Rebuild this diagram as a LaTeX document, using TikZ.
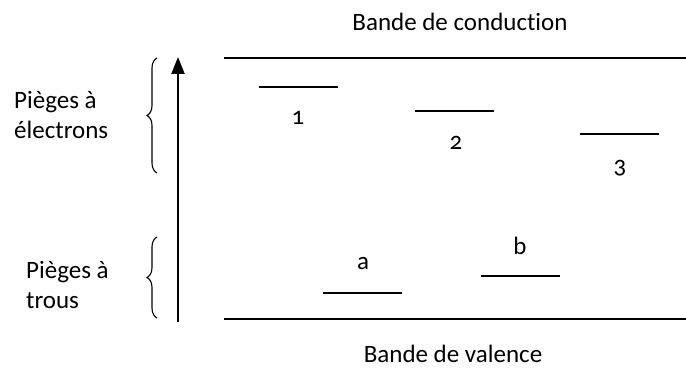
\documentclass[tikz,border=0pt]{standalone}
\usepackage{fontspec}
\setmainfont{Carlito}[Ligatures=NoCommon, Numbers=OldStyle]
\usetikzlibrary{arrows.meta,decorations.pathreplacing}
\begin{document}
\begin{tikzpicture}[x=1pt,y=1pt,
  band/.style={line width=1.8pt},
  level/.style={line width=1.6pt},
  lbl/.style={font=\fontsize{25}{30}\selectfont, inner sep=0pt},
  brc/.style={decorate, decoration={brace, amplitude=10pt}, line width=1.1pt},
  side/.style={font=\fontsize{25}{30}\selectfont, align=left, inner sep=0pt, anchor=west}]
\useasboundingbox (0,0) rectangle (686,369);
% bands
\coordinate (cb1) at (224,311); \coordinate (cb2) at (686,311);
\coordinate (vb1) at (224,50); \coordinate (vb2) at (686,50);
\draw[band] (cb1) -- (cb2);
\draw[band] (vb1) -- (vb2);
\node[lbl] (cond) at (460,347) {Bande de conduction};
\node[lbl] (val) at (453,15) {Bande de valence};
% energy arrow
\coordinate (ar1) at (178,47); \coordinate (ar2) at (178,312);
\draw[line width=2.2pt, -{Triangle[width=13pt,length=17pt]}] (ar1) -- (ar2);
% electron traps
\draw[level] (259,282) -- (338,282);
\node[lbl] (l1) at (298,251) {1};
\draw[level] (415,258) -- (494,258);
\node[lbl] (l2) at (456,226) {2};
\draw[level] (580,235) -- (659,235);
\node[lbl] (l3) at (620,201) {3};
% hole traps
\draw[level] (323,76) -- (402,76);
\node[lbl] (la) at (363,105) {a};
\draw[level] (481,93) -- (560,93);
\node[lbl] (lb) at (520,123) {b};
% braces
\coordinate (b1s) at (157,196); \coordinate (b1e) at (157,311);
\draw[brc] (b1s) -- (b1e);
\coordinate (b2s) at (157,51); \coordinate (b2e) at (157,132);
\draw[brc] (b2s) -- (b2e);
\node[side] (pe) at (14,254) {Pièges à\\électrons};
\node[side] (pt) at (26,84) {Pièges à\\trous};
\end{tikzpicture}
\end{document}
